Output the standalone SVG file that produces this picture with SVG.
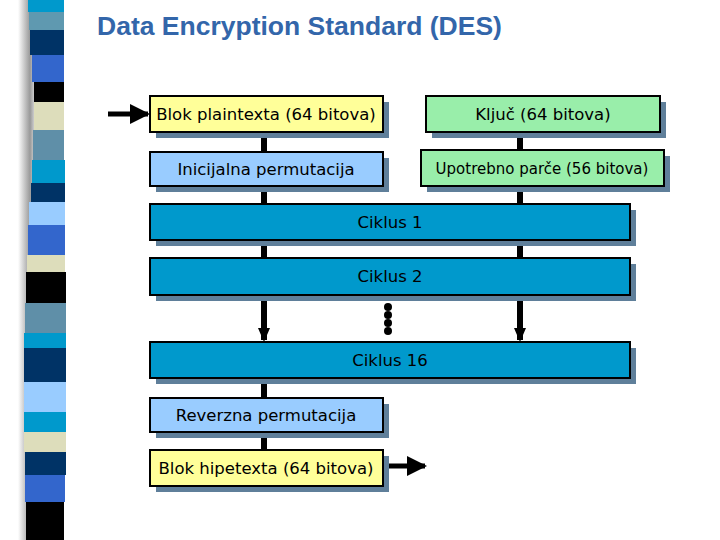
<svg xmlns="http://www.w3.org/2000/svg" width="720" height="540" viewBox="0 0 720 540">
<defs>
<linearGradient id="sh" x1="0" x2="1"><stop offset="0" stop-color="#fff"/><stop offset="0.6" stop-color="#999"/><stop offset="1" stop-color="#fff"/></linearGradient>
<marker id="ah" viewBox="0 0 10 10" refX="9" refY="5" markerWidth="4" markerHeight="4" orient="auto"><path d="M0,0L10,5L0,10z" fill="#000"/></marker>
</defs>
<style>
.b{stroke:#000;stroke-width:2}
.s{fill:#5f7f9a}
.t{font-family:Tahoma,"DejaVu Sans",sans-serif;font-size:16.5px;fill:#000;text-anchor:middle}
.c{stroke:#000;stroke-width:6;fill:none}
</style>
<rect width="720" height="540" fill="#fff"/>
<rect x="18" y="0" width="20" height="540" fill="url(#sh)"/>
<g id="stripe">
<rect x="28" y="0" width="36" height="12" fill="#0099cc"/>
<rect x="29" y="12" width="35" height="18" fill="#5f99b0"/>
<rect x="30" y="30" width="34" height="25" fill="#003366"/>
<rect x="32" y="55" width="32" height="27" fill="#3366cc"/>
<rect x="34" y="82" width="30" height="20" fill="#000"/>
<rect x="34" y="102" width="30" height="28" fill="#ddddbb"/>
<rect x="33" y="130" width="31" height="30" fill="#5f8fa8"/>
<rect x="32" y="160" width="33" height="23" fill="#0099cc"/>
<rect x="31" y="183" width="34" height="19" fill="#003366"/>
<rect x="29" y="202" width="36" height="23" fill="#99ccff"/>
<rect x="28" y="225" width="37" height="30" fill="#3366cc"/>
<rect x="27" y="255" width="38" height="17" fill="#ddddbb"/>
<rect x="26" y="272" width="40" height="31" fill="#000"/>
<rect x="25" y="303" width="41" height="30" fill="#5f8fa8"/>
<rect x="24" y="333" width="42" height="15" fill="#0099cc"/>
<rect x="24" y="348" width="42" height="34" fill="#003366"/>
<rect x="24" y="382" width="42" height="30" fill="#99ccff"/>
<rect x="24" y="412" width="42" height="20" fill="#0099cc"/>
<rect x="24" y="432" width="42" height="20" fill="#ddddbb"/>
<rect x="25" y="452" width="41" height="23" fill="#003366"/>
<rect x="25" y="475" width="40" height="27" fill="#3366cc"/>
<rect x="26" y="502" width="38" height="38" fill="#000"/>
</g>
<text x="97" y="35" style="font-family:Arial,'Liberation Sans',sans-serif;font-size:26.5px;font-weight:bold;fill:#3366aa">Data Encryption Standard (DES)</text>
<g id="connectors">
<path class="c" d="M264 132V152M264 186V204M264 240V258M264 295V340M264 378V398M264 432V450M520 132V150M520 186V204M520 240V258M520 295V340" />
<path d="M258 328L270 328L264 342Z M514 328L526 328L520 342Z"/>
<line x1="108" y1="114" x2="148" y2="114" stroke="#000" stroke-width="5" marker-end="url(#ah)"/>
<line x1="383" y1="466" x2="425" y2="466" stroke="#000" stroke-width="5" marker-end="url(#ah)"/>
<g fill="#000"><circle cx="388" cy="307" r="4"/><circle cx="388" cy="315" r="4"/><circle cx="388" cy="323" r="4"/><circle cx="388" cy="331" r="4"/></g>
</g>
<g id="n1"><rect class="s" x="156" y="102" width="233" height="36"/><rect class="b" x="150" y="96" width="233" height="36" fill="#ffff99"/><text class="t" x="266" y="120">Blok plaintexta (64 bitova)</text></g>
<g id="n2"><rect class="s" x="156" y="158" width="233" height="34"/><rect class="b" x="150" y="152" width="233" height="34" fill="#99ccff"/><text class="t" x="266" y="175">Inicijalna permutacija</text></g>
<g id="n3"><rect class="s" x="432" y="102" width="234" height="36"/><rect class="b" x="426" y="96" width="234" height="36" fill="#99eeaa"/><text class="t" x="543" y="120">Ključ  (64 bitova)</text></g>
<g id="n4"><rect class="s" x="427" y="156" width="243" height="36"/><rect class="b" x="421" y="150" width="243" height="36" fill="#99eeaa"/><text class="t" x="542" y="174" style="font-size:15px">Upotrebno parče (56 bitova)</text></g>
<g id="c1"><rect class="s" x="156" y="210" width="480" height="36"/><rect class="b" x="150" y="204" width="480" height="36" fill="#0099cc"/><text class="t" x="390" y="228">Ciklus 1</text></g>
<g id="c2"><rect class="s" x="156" y="264" width="480" height="37"/><rect class="b" x="150" y="258" width="480" height="37" fill="#0099cc"/><text class="t" x="390" y="282">Ciklus 2</text></g>
<g id="c16"><rect class="s" x="156" y="348" width="480" height="36"/><rect class="b" x="150" y="342" width="480" height="36" fill="#0099cc"/><text class="t" x="390" y="366">Ciklus 16</text></g>
<g id="n5"><rect class="s" x="156" y="404" width="233" height="34"/><rect class="b" x="150" y="398" width="233" height="34" fill="#99ccff"/><text class="t" x="266" y="421">Reverzna permutacija</text></g>
<g id="n6"><rect class="s" x="156" y="456" width="233" height="36"/><rect class="b" x="150" y="450" width="233" height="36" fill="#ffff99"/><text class="t" x="266" y="474">Blok hipetexta (64 bitova)</text></g>
</svg>
